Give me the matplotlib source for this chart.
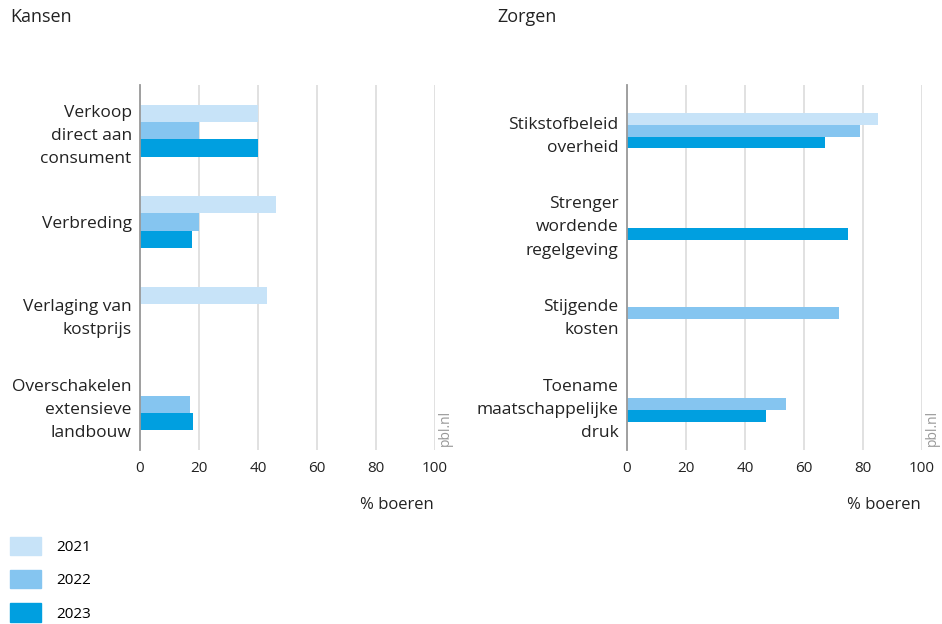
import numpy as np
import matplotlib.pyplot as plt

plt.rcParams['font.family'] = ['Open Sans', 'DejaVu Sans']

# Data
jaren = ["2021", "2022", "2023"]
kleuren = ["#c7e3f8", "#85c5f0", "#009fe0"]

kansen_labels = ["Verkoop\ndirect aan\nconsument", "Verbreding",
                 "Verlaging van\nkostprijs", "Overschakelen\nextensieve\nlandbouw"]
kansen_2021 = [40, 46, 43, np.nan]
kansen_2022 = [20, 20, np.nan, 17]
kansen_2023 = [40, 17.5, np.nan, 18]

zorgen_labels = ["Stikstofbeleid\noverheid", "Strenger\nwordende\nregelgeving",
                 "Stijgende\nkosten", "Toename\nmaatschappelijke\ndruk"]
zorgen_2021 = [85, np.nan, np.nan, np.nan]
zorgen_2022 = [79, np.nan, 72, 54]
zorgen_2023 = [67, 75, np.nan, 47]

ticks = [0, 20, 40, 60, 80, 100]

fig = plt.figure(figsize=(9.42, 6.24), dpi=100)

ax1 = fig.add_axes([140 / 942, 1 - 450 / 624, 295 / 942, 365 / 624])
ax2 = fig.add_axes([627 / 942, 1 - 450 / 624, 295 / 942, 365 / 624])


def teken(ax, labels, reeksen, h, titel, titel_x):
    y = np.arange(len(labels))
    for i, (vals, kleur) in enumerate(zip(reeksen, kleuren)):
        ax.barh(y + (i - 1) * h, vals, height=h, color=kleur, zorder=3)
    ax.set_ylim(len(labels) - 0.5, -0.5)
    ax.set_xlim(0, 100)
    ax.set_xticks(ticks)
    ax.set_xticklabels([str(t) for t in ticks], fontsize=11, color="#222222")
    ax.set_yticks(y)
    ax.set_yticklabels(labels, fontsize=12.5, color="#222222", linespacing=1.6)
    ax.tick_params(axis="y", length=0, pad=6)
    ax.tick_params(axis="x", length=0, pad=8)
    ax.grid(axis="x", color="#dcdcdc", linewidth=1.2, zorder=0)
    for s in ["top", "right", "bottom"]:
        ax.spines[s].set_visible(False)
    ax.spines["left"].set_color("#999999")
    ax.spines["left"].set_linewidth(1.3)
    ax.spines["left"].set_zorder(4)
    ax.set_xlabel("% boeren", fontsize=12, color="#222222")
    ax.xaxis.set_label_coords(0.87, -0.13)
    ax.text(1.035, 0.01, "pbl.nl", transform=ax.transAxes, rotation=90,
            fontsize=10, color="#999999", ha="center", va="bottom")
    fig.text(titel_x, 1 - 17 / 624, titel, fontsize=13, color="#222222",
             ha="left", va="center")


teken(ax1, kansen_labels, [kansen_2021, kansen_2022, kansen_2023], 0.19, "Kansen", 10 / 942)
teken(ax2, zorgen_labels, [zorgen_2021, zorgen_2022, zorgen_2023], 0.13, "Zorgen", 497 / 942)

handles = [plt.Rectangle((0, 0), 1, 1, color=k) for k in kleuren]
fig.legend(handles, jaren, loc="upper left", bbox_to_anchor=(0.011, 0.14),
           frameon=False, fontsize=11, handlelength=2.0, handleheight=1.45,
           labelspacing=1.0, handletextpad=1.0, borderaxespad=0, borderpad=0)

fig.savefig("out.png", dpi=100)
